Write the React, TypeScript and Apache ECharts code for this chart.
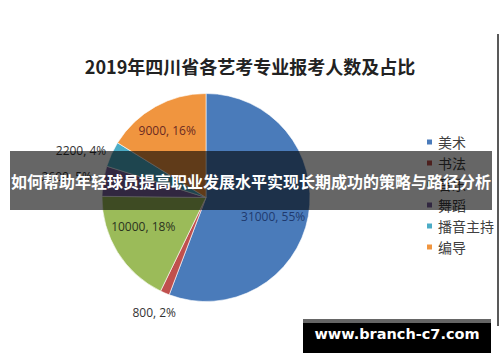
import React, { useEffect, useRef } from "react";
import * as echarts from "echarts";

const categories = ["美术", "书法", "音乐", "舞蹈", "播音主持", "编导"];
const values = [31000, 800, 10000, 2600, 2200, 9000];
const percents = [55, 2, 18, 5, 4, 16];

const colors = ["#4A7BBA", "#C0504D", "#9BBB59", "#7B63A0", "#4BACC6", "#F0953F"];
const labelColors = ["#1F3A6E", "#333333", "#2B3320", "#333333", "#333333", "#6B2A22"];
// label nudges relative to the slice's inside anchor
const labelNudge: [number, number][] = [
  [13, 9],
  [-30, 64],
  [-16, 0],
  [-85, -12],
  [-75, -24],
  [-12, -19],
];

export default function App() {
  const ref = useRef<HTMLDivElement>(null);
  useEffect(() => {
    if (!ref.current) return;
    const chart = echarts.init(ref.current, undefined, { renderer: "svg" });
    chart.setOption({
      animation: false,
      backgroundColor: "#ffffff",
      title: {
        text: "2019年四川省各艺考专业报考人数及占比",
        left: "center",
        top: 52,
        textStyle: {
          fontFamily: "Noto Sans CJK SC",
          fontSize: 18,
          fontWeight: "bold",
          color: "#222222",
        },
      },
      legend: {
        orient: "vertical",
        left: 420,
        top: 130,
        icon: "rect",
        itemWidth: 7,
        itemHeight: 7,
        itemGap: 7,
        data: categories,
        textStyle: {
          fontFamily: "Noto Sans CJK SC",
          fontSize: 14,
          color: "#404040",
        },
      },
      series: [
        {
          type: "pie",
          center: [206, 197.5],
          radius: 104,
          startAngle: 90,
          clockwise: true,
          avoidLabelOverlap: false,
          itemStyle: { borderColor: "#ffffff", borderWidth: 0.6 },
          label: {
            show: true,
            position: "inside",
            fontFamily: "Open Sans",
            fontSize: 12,
            formatter: (p: any) => `${values[p.dataIndex]}, ${percents[p.dataIndex]}%`,
          },
          labelLine: { show: false },
          labelLayout: (p: any) => ({
            dx: labelNudge[p.dataIndex][0],
            dy: labelNudge[p.dataIndex][1],
          }),
          data: categories.map((name, i) => ({
            name,
            value: values[i],
            itemStyle: { color: colors[i] },
            label: { color: labelColors[i] },
          })),
        },
      ],
      graphic: [
        {
          type: "line",
          z: 100,
          shape: { x1: 498, y1: 34, x2: 498, y2: 326 },
          style: { stroke: "#222222", lineWidth: 1.5 },
        },
        {
          type: "rect",
          z: 100,
          shape: { x: 10, y: 151, width: 482, height: 59 },
          style: { fill: "rgba(0,0,0,0.6)" },
        },
        {
          type: "text",
          z: 101,
          x: 251,
          y: 181,
          style: {
            text: "如何帮助年轻球员提高职业发展水平实现长期成功的策略与路径分析",
            fill: "#ffffff",
            fontFamily: "Noto Sans CJK SC",
            fontSize: 16,
            fontWeight: "bold",
            textAlign: "center",
            textVerticalAlign: "middle",
          },
        },
        {
          type: "rect",
          z: 100,
          shape: { x: 303, y: 319, width: 188, height: 34 },
          style: { fill: "#000000" },
        },
        {
          type: "rect",
          z: 100,
          shape: { x: 303, y: 319, width: 188, height: 4 },
          style: { fill: "#666666" },
        },
        {
          type: "text",
          z: 101,
          x: 397,
          y: 334,
          style: {
            text: "www.branch-c7.com",
            fill: "#ffffff",
            fontFamily: "DejaVu Sans",
            fontSize: 14.5,
            fontWeight: "bold",
            textAlign: "center",
            textVerticalAlign: "middle",
          },
        },
      ],
    });
    return () => chart.dispose();
  }, []);
  return (
    <div
      ref={ref}
      style={{ position: "absolute", left: 0, top: 0, width: 500, height: 362 }}
    />
  );
}
